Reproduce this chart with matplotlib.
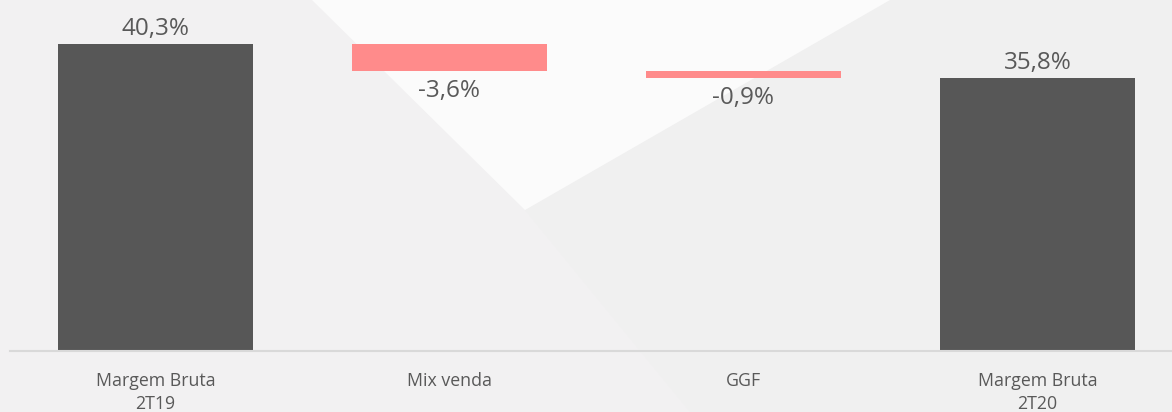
import matplotlib
matplotlib.use("Agg")
import matplotlib.pyplot as plt
from matplotlib.patches import Polygon

categories = ["Margem Bruta\n2T19", "Mix venda", "GGF", "Margem Bruta\n2T20"]
values = [40.3, -3.6, -0.9, 35.8]
labels = ["40,3%", "-3,6%", "-0,9%", "35,8%"]
is_total = [True, False, False, True]

plt.rcParams['font.family'] = ['Open Sans', 'DejaVu Sans']

W, H = 1172, 412
fig = plt.figure(figsize=(W / 100, H / 100), dpi=100)
fig.patch.set_facecolor('#f2f1f2')

# background shapes (figure pixel coords -> fraction)
def fp(x, y):
    return (x / W, 1 - y / H)

bg_right = Polygon([fp(525, 210), fp(890, 0), fp(1172, 0), fp(1172, 412), fp(690, 412)],
                   closed=True, transform=fig.transFigure, facecolor='#f0f0f0', edgecolor='none', zorder=0)
wedge = Polygon([fp(312, 0), fp(890, 0), fp(525, 210)], closed=True,
                transform=fig.transFigure, facecolor='#fbfbfb', edgecolor='none', zorder=0)
fig.patches.extend([bg_right, wedge])

ax = fig.add_axes([10 / W, 61 / H, 1162 / W, 351 / H])
ax.set_zorder(5)
ax.set_facecolor('none')

# waterfall
bottoms = []
heights = []
running = 0.0
for v, tot in zip(values, is_total):
    if tot:
        bottoms.append(0.0)
        heights.append(v)
        running = v
    else:
        bottoms.append(running + v)
        heights.append(-v)
        running = running + v

colors = ['#575757' if t else '#ff8b8b' for t in is_total]
x = list(range(len(categories)))
ax.bar(x, heights, bottom=bottoms, width=0.663, color=colors, zorder=2)

for xi, b, h, v, lab, tot in zip(x, bottoms, heights, values, labels, is_total):
    if tot:
        ax.annotate(lab, (xi, b + h), xytext=(0, 2), textcoords='offset points',
                    ha='center', va='bottom', fontsize=17.5, color='#595959')
    else:
        ax.annotate(lab, (xi, b), xytext=(0, -5.5), textcoords='offset points',
                    ha='center', va='top', fontsize=17.5, color='#595959')

ax.set_xlim(-0.4949, 3.4575)
ax.set_ylim(0, 46.07)
ax.set_xticks(x)
ax.set_xticklabels(categories, fontsize=12.8, color='#595959', linespacing=1.4)
ax.tick_params(axis='x', length=0, pad=15)
ax.set_yticks([])
for s in ['top', 'right', 'left']:
    ax.spines[s].set_visible(False)
ax.spines['bottom'].set_color('#d9d9d9')
ax.spines['bottom'].set_linewidth(1.5)

fig.savefig('out.png', dpi=100, facecolor=fig.get_facecolor())
